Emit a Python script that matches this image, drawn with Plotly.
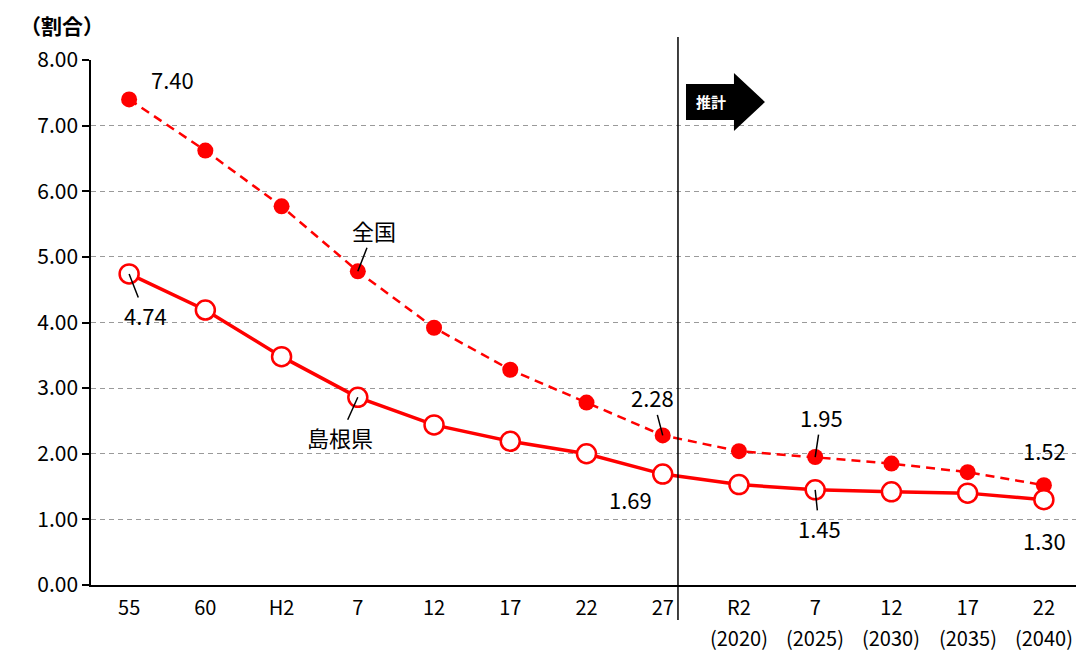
import plotly.graph_objects as go

OFF = 8  # the html page puts the figure 8px in from the top-left
W, H = 1084 - OFF, 653 - OFF
L, R, T, B = 91 - OFF, 2, 60 - OFF, 68

# 年次（昭和・平成・令和）
cats = ["55", "60", "H2", "7", "12", "17", "22", "27", "R2", "7", "12", "17", "22"]
years = ["", "", "", "", "", "", "", "", "(2020)", "(2025)", "(2030)", "(2035)", "(2040)"]
zenkoku = [7.40, 6.62, 5.77, 4.78, 3.92, 3.28, 2.78, 2.28, 2.04, 1.95, 1.85, 1.72, 1.52]
shimane = [4.74, 4.19, 3.48, 2.86, 2.44, 2.19, 2.00, 1.69, 1.53, 1.45, 1.42, 1.40, 1.30]
y_ticks = [0, 1, 2, 3, 4, 5, 6, 7, 8]
split_at = 7.2  # 実績 / 推計 の区切り

NUM = "Noto Sans CJK JP"
JP = "Noto Sans CJK JP"
RED = "#ff0000"
xs = list(range(len(cats)))

def px(x):  # screen pixel -> paper
    return (x - OFF - L) / (W - L - R)

def py(y):
    return (H - B - (y - OFF)) / (H - T - B)

fig = go.Figure()
fig.add_trace(go.Scatter(
    x=xs, y=zenkoku, mode="lines+markers", name="全国",
    line=dict(color=RED, width=2.5, dash="9px,6px"),
    marker=dict(size=16, color=RED),
))
fig.add_trace(go.Scatter(
    x=xs, y=shimane, mode="lines+markers", name="島根県",
    line=dict(color=RED, width=3.5),
    marker=dict(size=19, color="white", line=dict(color=RED, width=2.5)),
))

# 数値ラベル (index, series, dx, dy, leader)
labels = [
    (0, zenkoku, 43, -20, False),
    (0, shimane, 16, 41, True),
    (7, zenkoku, -10, -38, True),
    (7, shimane, -32, 25, False),
    (9, zenkoku, 6, -40, True),
    (9, shimane, 4, 38, True),
    (12, zenkoku, 1, -35, False),
    (12, shimane, 1, 40, False),
]
for i, s, dx, dy, lead in labels:
    txt = f"{s[i]:.2f}"
    if lead:
        fig.add_annotation(x=i, y=s[i], text=txt, showarrow=True, ax=dx, ay=dy,
                           arrowhead=0, arrowwidth=1.5, arrowcolor="black", standoff=0,
                           font=dict(family=NUM, size=22, color="black"))
    else:
        fig.add_annotation(x=i, y=s[i], text=txt, showarrow=False, xshift=dx, yshift=-dy,
                           xanchor="center", yanchor="middle",
                           font=dict(family=NUM, size=22, color="black"))

# 系列名ラベル
fig.add_annotation(x=3, y=zenkoku[3], text="全国", showarrow=True, ax=16, ay=-41,
                   arrowhead=0, arrowwidth=1.5, arrowcolor="black", standoff=0,
                   font=dict(family=JP, size=22, color="black"))
fig.add_annotation(x=3, y=shimane[3], text="島根県", showarrow=True, ax=-18, ay=40,
                   arrowhead=0, arrowwidth=1.5, arrowcolor="black", standoff=0,
                   font=dict(family=JP, size=22, color="black"))

# 西暦（x軸 2段目）
for i, yr in enumerate(years):
    if yr:
        fig.add_annotation(x=i, xref="x", yref="paper", y=py(637), text=yr,
                           showarrow=False, xanchor="center", yanchor="middle",
                           font=dict(family=NUM, size=20, color="black"))

# 区切り線
fig.add_shape(type="line", xref="x", yref="paper", x0=split_at, x1=split_at,
              y0=py(620), y1=py(37), line=dict(color="black", width=1.5), layer="above")

# 推計 矢印
arrow = [(686, 84), (734, 84), (734, 73), (765, 102), (734, 131), (734, 120), (686, 120)]
path = "M " + " L ".join(f"{px(a):.4f},{py(b):.4f}" for a, b in arrow) + " Z"
fig.add_shape(type="path", xref="paper", yref="paper", path=path,
              fillcolor="black", line=dict(color="black", width=0))
fig.add_annotation(xref="paper", yref="paper", x=px(711), y=py(102), text="<b>推計</b>",
                   xanchor="center", yanchor="middle",
                   showarrow=False, font=dict(family=JP, size=15, color="white"))

# 単位
fig.add_annotation(xref="paper", yref="paper", x=px(62), y=py(25), text="<b>（割合）</b>",
                   xanchor="center", yanchor="middle",
                   showarrow=False, font=dict(family=JP, size=21, color="black"))

fig.update_layout(
    width=W, height=H,
    margin=dict(l=L, r=R, t=T, b=B),
    paper_bgcolor="white", plot_bgcolor="white",
    showlegend=False,
    xaxis=dict(
        range=[-0.5, len(cats) - 0.5], tickmode="array", tickvals=xs, ticktext=cats,
        showgrid=False, zeroline=False, showline=True, linecolor="black", linewidth=1.5,
        ticks="", ticklabelstandoff=4, tickfont=dict(family=NUM, size=20, color="black"),
    ),
    yaxis=dict(
        range=[0, 8], tickmode="array", tickvals=y_ticks,
        ticktext=[f"{v:.2f}" for v in y_ticks],
        showgrid=True, gridcolor="#9a9a9a", griddash="5px,4px", gridwidth=1,
        zeroline=False, showline=True, linecolor="black", linewidth=1.5,
        ticks="outside", ticklen=7, tickcolor="black", tickwidth=1.5,
        tickfont=dict(family=NUM, size=21, color="black"),
    ),
)

fig.write_html("out.html")
